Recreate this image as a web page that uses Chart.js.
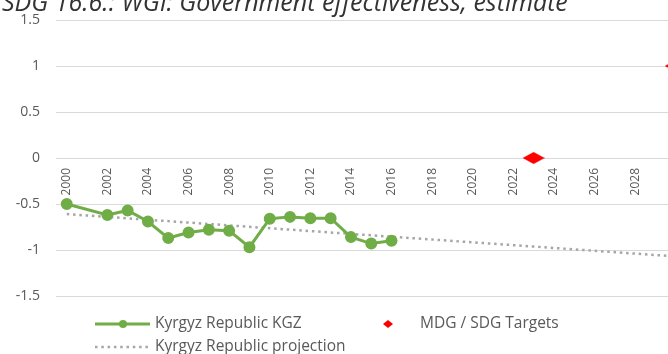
<!DOCTYPE html>
<html>
<head>
<meta charset="utf-8">
<script src="https://cdn.jsdelivr.net/npm/chart.js@4"></script>
<style>
  html, body { margin: 0; padding: 0; background: #fff; overflow: hidden; }
  #wrap { position: relative; width: 668px; height: 354px; }
</style>
</head>
<body>
<div id="wrap"><canvas id="grafico" width="668" height="354"></canvas></div>
<script>
const titulo = 'SDG 16.6.: WGI: Government effectiveness, estimate'

// Kyrgyz Republic, WGI government effectiveness (no 2001 release)
const anos = [2000, 2002, 2003, 2004, 2005, 2006, 2007, 2008, 2009, 2010, 2011, 2012, 2013, 2014, 2015, 2016]
const valoresKgz = [-0.50, -0.62, -0.57, -0.69, -0.87, -0.81, -0.78, -0.79, -0.97, -0.66, -0.64, -0.655, -0.655, -0.86, -0.93, -0.90]

// trend projection
const anosProjecao = [2000, 2030]
const valoresProjecao = [-0.61, -1.07]

// MDG / SDG targets
const anosMeta = [2023, 2030]
const valoresMeta = [0, 1]

const ticksX = [2000, 2002, 2004, 2006, 2008, 2010, 2012, 2014, 2016, 2018, 2020, 2022, 2024, 2026, 2028]
const ticksY = [-1.5, -1, -0.5, 0, 0.5, 1, 1.5]

const verde = '#70ad47'
const cinza = '#a6a6a6'
const vermelho = '#ff0000'
const corTexto = '#595959'

function losango(w, h) {
    const c = document.createElement('canvas')
    c.width = w
    c.height = h
    const g = c.getContext('2d')
    g.fillStyle = vermelho
    g.beginPath()
    g.moveTo(w / 2, 0)
    g.lineTo(w, h / 2)
    g.lineTo(w / 2, h)
    g.lineTo(0, h / 2)
    g.closePath()
    g.fill()
    return c
}

const pares = (xs, ys) => xs.map((x, i) => ({ x: x, y: ys[i] }))

const tituloPlugin = {
    id: 'tituloPlugin',
    afterDraw(chart) {
        const ctx = chart.ctx
        ctx.save()
        ctx.font = 'italic 25px "Open Sans"'
        ctx.fillStyle = '#333333'
        ctx.textBaseline = 'alphabetic'
        ctx.textAlign = 'left'
        ctx.fillText(titulo, 2, 11)
        ctx.restore()
    }
}

const legendaPlugin = {
    id: 'legendaPlugin',
    afterDraw(chart) {
        const ctx = chart.ctx
        const ds = chart.data.datasets
        ctx.save()
        ctx.font = '15.5px "Open Sans"'
        ctx.fillStyle = corTexto
        ctx.textBaseline = 'middle'

        // linha 1: serie verde
        const y1 = 324
        ctx.strokeStyle = ds[0].borderColor
        ctx.lineWidth = ds[0].borderWidth
        ctx.beginPath()
        ctx.moveTo(95, y1)
        ctx.lineTo(150, y1)
        ctx.stroke()
        ctx.fillStyle = ds[0].pointBackgroundColor
        ctx.beginPath()
        ctx.arc(123, y1, 4, 0, Math.PI * 2)
        ctx.fill()
        ctx.fillStyle = corTexto
        ctx.fillText(ds[0].label, 155, y1)

        // metas
        ctx.drawImage(losango(10, 8), 383, y1 - 4)
        ctx.fillText(ds[2].label, 420, y1)

        // linha 2: projecao pontilhada
        const y2 = 347
        ctx.strokeStyle = ds[1].borderColor
        ctx.lineWidth = ds[1].borderWidth
        ctx.setLineDash(ds[1].borderDash)
        ctx.beginPath()
        ctx.moveTo(95, y2)
        ctx.lineTo(148, y2)
        ctx.stroke()
        ctx.setLineDash([])
        ctx.fillText(ds[1].label, 155, y2)
        ctx.restore()
    }
}

new Chart(document.getElementById('grafico'), {
    type: 'line',
    data: {
        datasets: [
            {
                label: 'Kyrgyz Republic KGZ',
                data: pares(anos, valoresKgz),
                borderColor: verde,
                backgroundColor: verde,
                pointBackgroundColor: verde,
                pointBorderColor: verde,
                borderWidth: 3,
                pointRadius: 4.5,
                order: 1
            },
            {
                label: 'Kyrgyz Republic projection',
                data: pares(anosProjecao, valoresProjecao),
                borderColor: cinza,
                borderWidth: 2.5,
                borderDash: [2.5, 3.8],
                pointRadius: 0,
                clip: false,
                order: 2
            },
            {
                label: 'MDG / SDG Targets',
                data: pares(anosMeta, valoresMeta),
                showLine: false,
                pointStyle: losango(22, 12),
                pointRadius: 11,
                clip: false,
                order: 0
            }
        ]
    },
    options: {
        responsive: false,
        animation: false,
        layout: { autoPadding: false, padding: { top: 20, bottom: 58, left: 0, right: 0 } },
        plugins: {
            legend: { display: false },
            tooltip: { enabled: false },
            title: { display: false }
        },
        scales: {
            x: {
                type: 'linear',
                position: { y: 0 },
                min: 1999.47,
                max: 2029.62,
                afterBuildTicks: s => { s.ticks = ticksX.map(v => ({ value: v })) },
                afterFit: s => { s.paddingLeft = 0; s.paddingRight = 0 },
                grid: { display: false },
                border: { display: false },
                ticks: {
                    minRotation: 90,
                    maxRotation: 90,
                    padding: 2,
                    color: corTexto,
                    font: { family: 'Open Sans', size: 12 },
                    callback: v => String(v)
                }
            },
            y: {
                min: -1.5,
                max: 1.5,
                afterBuildTicks: s => { s.ticks = ticksY.map(v => ({ value: v })) },
                afterFit: s => { s.width = 56; s.paddingTop = 0; s.paddingBottom = 0 },
                grid: { color: '#d9d9d9', lineWidth: 1, drawTicks: false },
                border: { display: false },
                ticks: {
                    padding: 16,
                    color: corTexto,
                    font: { family: 'Open Sans', size: 14 },
                    callback: v => String(v)
                }
            }
        }
    },
    plugins: [tituloPlugin, legendaPlugin]
})
</script>
</body>
</html>
